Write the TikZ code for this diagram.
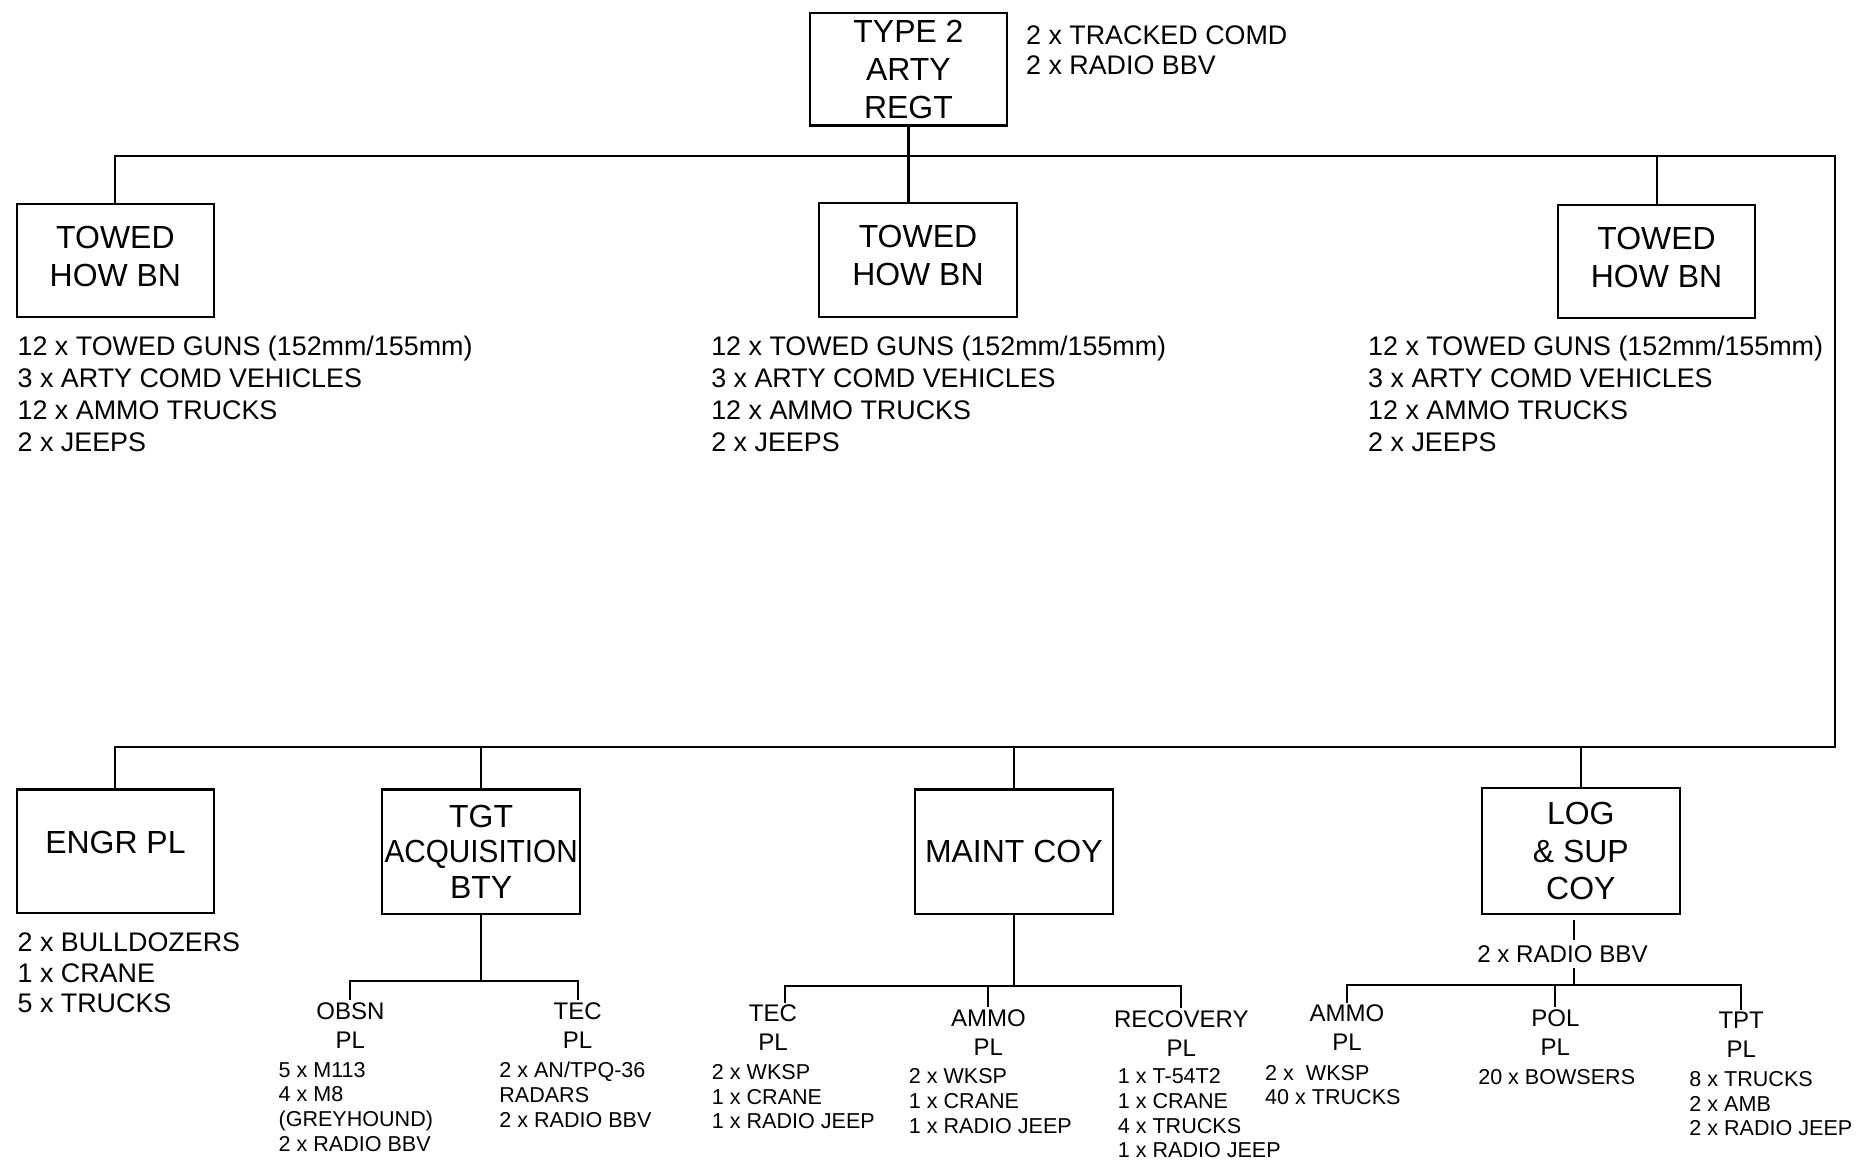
\documentclass[tikz,border=0pt]{standalone}
\usepackage{graphicx}
\usepackage{fontspec}
\setmainfont{Liberation Sans}
\usetikzlibrary{positioning,calc}

\begin{document}
\begin{tikzpicture}[x=1pt, y=-1pt, line width=1.8pt,
  u/.style={draw, inner sep=0pt, minimum width=167pt, align=center, font=\fontsize{27}{32}\selectfont},
  kit/.style={anchor=north west, inner sep=0pt, align=left, font=\fontsize{22.7}{27}\selectfont},
  sub/.style={anchor=north, inner sep=1pt, align=center, font=\fontsize{20.3}{24.5}\selectfont},
  subkit/.style={anchor=north west, inner sep=0pt, align=left, font=\fontsize{18.2}{20.8}\selectfont}]
\useasboundingbox (0,0) rectangle (1568,984);
\node[u, minimum height=95pt] (regt) at (767.5,58.5) {TYPE 2\\ARTY\\REGT};
\node[kit, font=\fontsize{22.7}{25.5}\selectfont] (regt-kit) at (866,21) {2 x TRACKED COMD\\2 x RADIO BBV};
\foreach \n/\x/\y in {bn1/97.5/220, bn2/775.5/219.5, bn3/1399.5/221}
  \node[u, minimum height=96pt, text depth=7pt] (\n) at (\x,\y) {TOWED\\HOW BN};
\foreach \n/\x in {bn1/14, bn2/600, bn3/1155}
  \node[kit] (\n-kit) at (\x,283) {12 x TOWED GUNS (152mm/155mm)\\3 x ARTY COMD VEHICLES\\12 x AMMO TRUCKS\\2 x JEEPS};
\node[u, minimum height=104pt, text depth=14pt] (engr) at (97.5,719) {ENGR PL};
\node[u, minimum height=105pt] (tgt) at (406.5,719.5) {TGT\\[-2pt]\scalebox{0.93}[1]{ACQUISITION}\\[-2pt]BTY};
\node[u, minimum height=105pt] (maint) at (856.5,719.5) {MAINT COY};
\node[u, minimum height=106pt] (log) at (1335.5,719) {LOG\\\& SUP\\COY};
\node[kit, font=\fontsize{22.7}{26}\selectfont] (engr-kit) at (14,787) {2 x BULLDOZERS\\1 x CRANE\\5 x TRUCKS};
\node[inner sep=4pt, font=\fontsize{20.4}{24}\selectfont] (log-kit) at (1320,806) {2 x RADIO BBV};
\foreach \n/\x/\y/\t in {obsn/296/845/OBSN, teca/488/845/TEC, tecb/653/847/TEC, ammob/835/851/AMMO,
    recov/998/852/RECOVERY, ammoc/1138/847/AMMO, pol/1314/851/POL, tpt/1471/853/TPT}
  \node[sub] (\n) at (\x,\y) {\t\\PL};
\node[subkit] (obsn-kit) at (234.5,896.4) {5 x M113\\4 x M8\\(GREYHOUND)\\2 x RADIO BBV};
\node[subkit] (teca-kit) at (421,896.5) {2 x AN/TPQ-36\\RADARS\\2 x RADIO BBV};
\node[subkit] (tecb-kit) at (600.6,898.3) {2 x WKSP\\1 x CRANE\\1 x RADIO JEEP};
\node[subkit] (ammob-kit) at (767,902) {2 x WKSP\\1 x CRANE\\1 x RADIO JEEP};
\node[subkit] (recov-kit) at (943.5,902) {1 x T-54T2\\1 x CRANE\\4 x TRUCKS\\1 x RADIO JEEP};
\node[subkit] (ammoc-kit) at (1068,899) {2 x\ \ WKSP\\40 x TRUCKS};
\node[subkit] (pol-kit) at (1248,902.5) {20 x BOWSERS};
\node[subkit] (tpt-kit) at (1426.4,904.5) {8 x TRUCKS\\2 x AMB\\2 x RADIO JEEP};
\coordinate (tr) at (1550,131.5);
\coordinate (br) at (1550,631);
\coordinate (tgtbus) at (0,829);
\coordinate (maintbus) at (0,833);
\coordinate (logbus) at (0,832);
\coordinate (logstem) at ([xshift=-6pt]log.south);
\draw (regt.south) -- (regt.south |- bn2.north);
\draw (bn1.north) -- (bn1.north |- tr) -- (tr) -- (br) -- (engr.north |- br) -- (engr.north);
\draw (bn3.north) -- (bn3.north |- tr);
\foreach \n in {tgt,maint,log} \draw (\n.north) -- (\n.north |- br);
\draw (tgt.south) -- (tgt.south |- tgtbus);
\draw (obsn.north) -- (obsn.north |- tgtbus) -- (teca.north |- tgtbus) -- (teca.north);
\draw (maint.south) -- (maint.south |- maintbus);
\draw ([xshift=10pt]tecb.north) -- ([xshift=10pt]tecb.north |- maintbus) -- (recov.north |- maintbus) -- (recov.north);
\draw (ammob.north) -- (ammob.north |- maintbus);
\draw ([yshift=-4pt]logstem) -- (logstem |- log-kit.north);
\draw (logstem |- log-kit.south) -- (logstem |- logbus);
\draw (ammoc.north) -- (ammoc.north |- logbus) -- (tpt.north |- logbus) -- (tpt.north);
\draw (pol.north) -- (pol.north |- logbus);
\end{tikzpicture}
\end{document}
